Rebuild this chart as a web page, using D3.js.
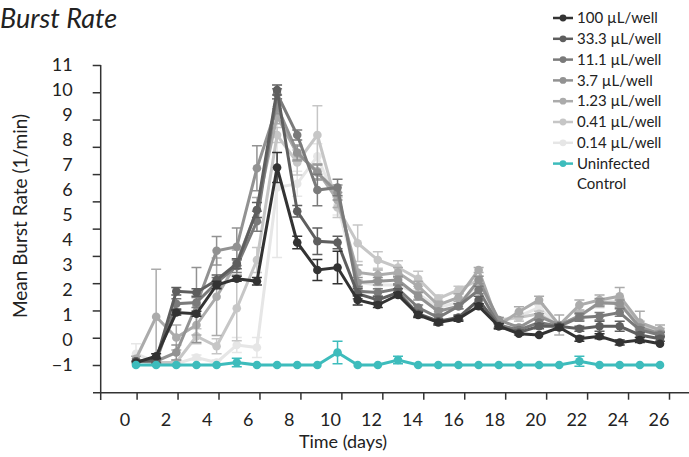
<!DOCTYPE html>
<html><head><meta charset="utf-8">
<script src="https://cdn.jsdelivr.net/npm/d3@7"></script>
<style>body{margin:0;background:#fff;} svg{display:block;font-family:Lato, "Open Sans", sans-serif;}</style>
</head><body><svg id="c" width="689" height="457"></svg>
<script>
const days = [0,1,2,3,4,5,6,7,8,9,10,11,12,13,14,15,16,17,18,19,20,21,22,23,24,25,26];
const seriesNames = ["100 µL/well","33.3 µL/well","11.1 µL/well","3.7 µL/well","1.23 µL/well","0.41 µL/well","0.14 µL/well","Uninfected Control"];
const seriesColors = ["#333333","#5e5e5e","#7a7a7a","#929292","#ababab","#c6c6c6","#e6e6e6","#3dbcbc"];

const v100 = [-0.9,-0.65,1.1,1.05,2.2,2.45,2.35,6.9,3.9,2.8,2.9,1.6,1.4,1.8,1.0,0.7,0.85,1.35,0.55,0.25,0.2,0.5,0.05,0.15,-0.1,0.0,-0.15];
const e100 = [0.05,0.1,0.1,0.1,0.15,0.1,0.15,0.6,0.25,0.42,0.65,0.2,0.1,0.1,0.1,0.1,0.1,0.1,0.1,0.05,0.05,0.1,0.1,0.1,0.1,0.1,0.05];
const v33 = [-0.85,-0.8,1.95,1.9,2.4,3.05,5.2,10.0,5.15,3.95,3.9,1.85,1.6,1.9,1.05,0.75,0.9,1.6,0.55,0.3,0.55,0.55,0.45,0.55,0.55,0.2,0.05];
const e33 = [0.05,0.1,0.15,0.15,0.2,0.2,0.3,0.2,0.23,0.53,0.25,0.2,0.15,0.15,0.1,0.1,0.1,0.15,0.1,0.1,0.1,0.1,0.1,0.2,0.2,0.1,0.1];
const v11 = [-0.85,-0.85,1.45,1.5,2.3,2.95,4.75,9.85,8.2,6.0,6.1,1.95,1.9,2.05,1.3,0.9,1.35,2.0,0.6,0.4,0.7,0.55,0.9,0.95,1.1,0.4,0.2];
const e11 = [0.05,0.1,0.2,0.2,0.2,0.25,0.4,0.2,0.2,0.63,0.33,0.2,0.15,0.15,0.1,0.1,0.1,0.15,0.1,0.1,0.1,0.1,0.15,0.15,0.15,0.1,0.1];
const v3 = [-0.85,-0.85,-0.5,1.4,3.57,3.73,6.87,9.35,7.5,6.7,5.9,2.3,2.35,2.4,1.75,1.15,1.35,2.4,0.8,0.5,0.95,0.6,0.95,1.5,1.45,0.5,0.25];
const e3 = [0.05,0.1,0.3,1.5,0.57,0.75,0.9,0.3,0.3,0.3,0.3,0.2,0.15,0.15,0.15,0.1,0.1,0.15,0.1,0.1,0.1,0.1,0.15,0.15,0.15,0.1,0.1];
const v123 = [-0.75,0.93,0.1,0.6,1.73,3.1,5.2,8.95,7.45,6.75,5.6,2.7,2.6,2.7,2.15,1.4,1.7,2.8,0.6,1.13,1.6,0.6,1.4,1.6,1.75,0.7,0.4];
const e123 = [0.1,1.9,0.5,0.4,1.55,0.5,0.5,0.3,0.3,0.3,0.3,0.3,0.2,0.2,0.2,0.15,0.15,0.1,0.1,0.2,0.15,0.4,0.2,0.2,0.35,0.45,0.2];
const v041 = [-0.85,-0.9,-0.9,0.15,-0.25,1.27,3.2,8.2,7.1,8.2,5.3,3.87,3.2,2.9,2.45,1.65,2.0,2.4,0.8,0.9,1.05,0.55,1.0,1.45,1.5,0.6,0.3];
const e041 = [0.05,0.1,0.1,0.3,0.3,1.3,0.5,0.3,0.5,1.17,0.4,0.73,0.33,0.27,0.3,0.15,0.15,0.15,0.1,0.15,0.1,0.15,0.15,0.15,0.15,0.15,0.15];
const v014 = [-0.55,-0.9,-0.95,-0.7,-0.9,-0.2,-0.3,6.1,6.25,7.35,5.4,2.3,2.2,2.2,1.85,1.3,1.5,2.2,0.7,0.95,1.3,0.55,0.9,1.55,1.55,0.6,0.35];
const e014 = [0.4,0.1,0.1,0.1,0.1,0.3,0.4,2.8,0.5,0.5,0.4,0.3,0.2,0.2,0.2,0.15,0.15,0.15,0.1,0.15,0.1,0.15,0.15,0.15,0.15,0.15,0.15];
const vCtrl = [-1,-1,-1,-1,-1,-0.9,-1,-1,-1,-1,-0.5,-1,-1,-0.8,-1,-1,-1,-1,-1,-1,-1,-1,-0.85,-1,-1,-1,-1];
const eCtrl = [0,0,0,0,0,0.17,0,0,0,0,0.45,0,0,0.15,0,0,0,0,0,0,0,0,0.2,0,0,0,0];

const seriesValues = [v100,v33,v11,v3,v123,v041,v014,vCtrl];
const seriesErrors = [e100,e33,e11,e3,e123,e041,e014,eCtrl];

const yTickLabels = [-1,0,1,2,3,4,5,6,7,8,9,10,11];
const yTickMarks = [-1,0,1,2,3,4,5,6,7,8,9,10];
const xTickLabels = [0,2,4,6,8,10,12,14,16,18,20,22,24,26];

const svg = d3.select("#c");
const x = d3.scaleLinear([0,26],[136,660]);
const xTickPos = d3.scaleLinear([0,26],[136.6,669]);
const xLabelPos = d3.scaleLinear([0,26],[124.5,658.5]);
const y = d3.scaleLinear([-1,11],[365,65]);
const yTickPos = d3.scaleLinear([-1,10],[365,65]);
const axisColor = "#333";
const X0 = 100.7, Y0 = 392.7;

// title
svg.append("text").attr("x",0).attr("y",28).attr("font-size",27).attr("font-style","italic")
  .attr("fill","#222").text("Burst Rate");

// y axis
const gyT = svg.append("g").attr("transform",`translate(${X0},0)`)
  .call(d3.axisLeft(yTickPos).tickValues(yTickMarks).tickFormat("").tickSize(8));
gyT.select(".domain").remove();
gyT.selectAll("line").attr("stroke",axisColor).attr("stroke-width",1.5);
const gyL = svg.append("g").attr("transform",`translate(${X0},0)`)
  .call(d3.axisLeft(y).tickValues(yTickLabels).tickSize(0).tickPadding(28));
gyL.select(".domain").remove();
gyL.selectAll("text").attr("font-size",18).attr("fill","#222").attr("font-family","Lato, sans-serif");
svg.append("line").attr("x1",X0).attr("x2",X0).attr("y1",y(11)).attr("y2",400)
  .attr("stroke",axisColor).attr("stroke-width",1.5);

// x axis
const gxT = svg.append("g").attr("transform",`translate(0,${Y0})`)
  .call(d3.axisBottom(xTickPos).tickValues(xTickLabels).tickFormat("").tickSize(7));
gxT.select(".domain").remove();
gxT.selectAll("line").attr("stroke",axisColor).attr("stroke-width",1.5);
const gxL = svg.append("g").attr("transform",`translate(0,${Y0})`)
  .call(d3.axisBottom(xLabelPos).tickValues(xTickLabels).tickSize(0));
gxL.select(".domain").remove();
gxL.selectAll("text").attr("y",33.5).attr("dy",null).attr("font-size",18).attr("fill","#222").attr("font-family","Lato, sans-serif");
svg.append("line").attr("x1",93).attr("x2",689).attr("y1",Y0).attr("y2",Y0)
  .attr("stroke",axisColor).attr("stroke-width",1.5);

svg.append("text").attr("x",343).attr("y",448).attr("text-anchor","middle").attr("font-size",18)
  .attr("fill","#222").text("Time (days)");
svg.append("text").attr("transform","translate(27,216) rotate(-90)").attr("text-anchor","middle")
  .attr("font-size",19).attr("fill","#222").text("Mean Burst Rate (1/min)");

// data
const order = [6,5,4,3,2,1,0,7];
const line = d3.line().x((d,i)=>x(days[i])).y(d=>y(d));
order.forEach(s=>{
  const vals = seriesValues[s], errs = seriesErrors[s], col = seriesColors[s];
  const g = svg.append("g");
  vals.forEach((v,i)=>{
    const e = errs[i];
    if (e>0.06){
      const cx = x(days[i]);
      g.append("line").attr("x1",cx).attr("x2",cx).attr("y1",y(v+e)).attr("y2",y(v-e)).attr("stroke",col).attr("stroke-width",1.5);
      [v+e,v-e].forEach(t=>g.append("line").attr("x1",cx-5).attr("x2",cx+5).attr("y1",y(t)).attr("y2",y(t)).attr("stroke",col).attr("stroke-width",1.5));
    }
  });
  g.append("path").attr("d",line(vals)).attr("fill","none").attr("stroke",col).attr("stroke-width",3);
  g.selectAll("circle").data(vals).join("circle").attr("cx",(d,i)=>x(days[i])).attr("cy",d=>y(d)).attr("r",4.3).attr("fill",col);
});

// legend
const leg = svg.append("g");
const legRows = [0,1,2,3,4,5,6,7];
legRows.forEach(i=>{
  const ly = 18 + i*20.8;
  leg.append("line").attr("x1",553).attr("x2",573).attr("y1",ly).attr("y2",ly).attr("stroke",seriesColors[i]).attr("stroke-width",2.5);
  leg.append("circle").attr("cx",563).attr("cy",ly).attr("r",3.4).attr("fill",seriesColors[i]);
  const parts = i===7 ? ["Uninfected","Control"] : [seriesNames[i]];
  parts.forEach((p,k)=>leg.append("text").attr("x",577).attr("y",ly+5.2+k*20.5).attr("font-size",15).attr("fill","#222").text(p));
});
</script></body></html>
